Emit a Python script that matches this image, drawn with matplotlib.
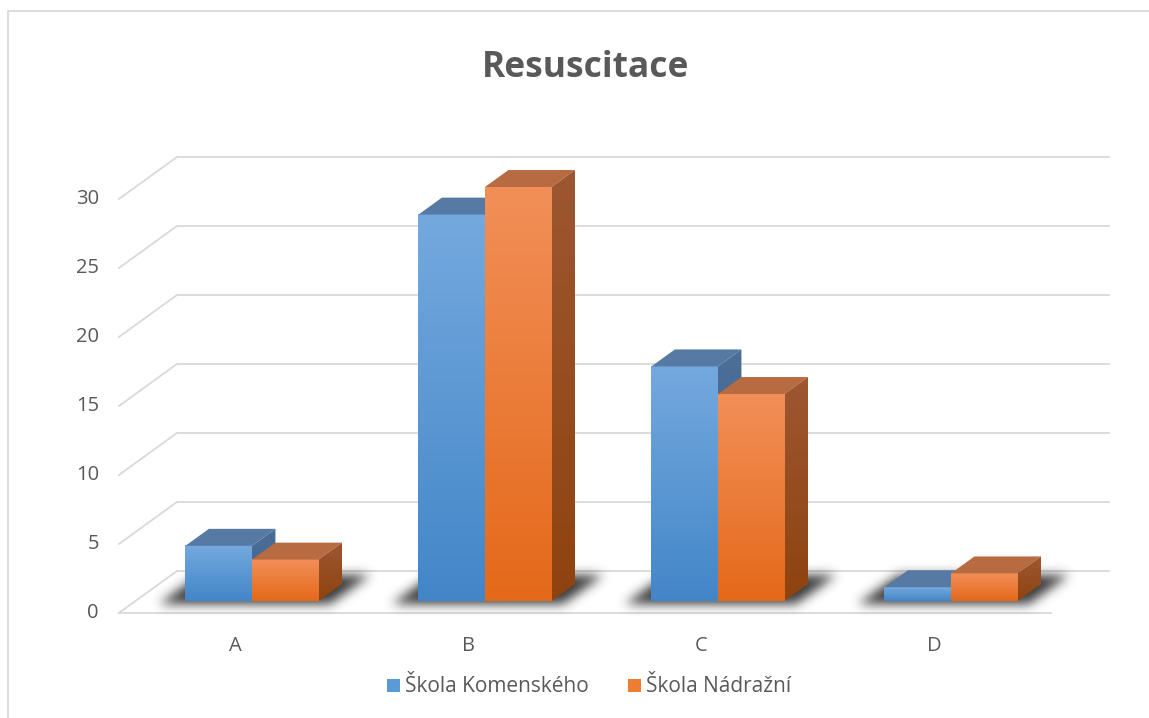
import numpy as np
import matplotlib
matplotlib.use("Agg")
import matplotlib.pyplot as plt
from matplotlib.colors import LinearSegmentedColormap
from matplotlib.patches import Polygon, Patch
from matplotlib.lines import Line2D

plt.rcParams['font.family'] = ['Open Sans', 'DejaVu Sans']

# data
categories = ['A', 'B', 'C', 'D']
series = ['Škola Komenského', 'Škola Nádražní']
komenskeho = [4, 28, 17, 1]
nadrazni = [3, 30, 15, 2]
ticks = [0, 5, 10, 15, 20, 25, 30]
title = 'Resuscitace'

# styles: (front top, front bottom, top face, side top, side bottom, legend)
styles = [
    ('#74a9de', '#4386c8', '#577aa5', '#4b6f98', '#3f6390', '#5b9bd5'),
    ('#f28f58', '#e4691a', '#b86a40', '#9d5731', '#8e430f', '#ed7d31'),
]
GRID = '#d9d9d9'
TXT = '#595959'

W, H, DPI = 1149, 718, 100
fig = plt.figure(figsize=(W / DPI, H / DPI), dpi=DPI)
ax = fig.add_axes([0, 0, 1, 1])
ax.axis('off')

# pixel scale of the plot area (category unit, value unit)
PX_X, PX_Y = 233.0, 13.8
X0, Y0 = 252.0, 601.0
DX, DY = 58 / PX_X, 42 / PX_Y        # full floor depth vector
BAR_D = 0.404                        # bar depth (fraction of floor depth)
FRONT, BACK = -0.286, 0.714          # floor depth range relative to bar front
BW = 1 / 3.5                         # gap width 150 %


def proj(x, v, d):
    return x + d * DX, v + d * DY


def blur(a, sigma):
    r = int(3 * sigma)
    k = np.exp(-0.5 * (np.arange(-r, r + 1) / sigma) ** 2)
    k /= k.sum()
    a = np.apply_along_axis(lambda m: np.convolve(m, k, mode='same'), 0, a)
    a = np.apply_along_axis(lambda m: np.convolve(m, k, mode='same'), 1, a)
    return a


# walls / gridlines
for v in ticks:
    xa, ya = proj(-0.5, v, FRONT)
    xb, yb = proj(-0.5, v, BACK)
    xc, yc = proj(len(categories) - 0.5, v, BACK)
    ax.plot([xa, xb, xc], [ya, yb, yc], color=GRID, lw=1.3, zorder=1,
            solid_joinstyle='miter')
    ax.text(xa - 20 / PX_X, ya, str(v), ha='right', va='center',
            fontsize=14.5, color=TXT)
xa, ya = proj(-0.5, 0, FRONT)
xb, yb = proj(len(categories) - 0.5, 0, FRONT)
ax.plot([xa, xb], [ya, yb], color=GRID, lw=1.3, zorder=1)

for i, c in enumerate(categories):
    xl, yl = proj(i, 0, FRONT)
    ax.text(xl, yl - 33 / PX_Y, c, ha='center', va='center',
            fontsize=14.5, color=TXT)

# soft shadows under each group
for i in range(len(categories)):
    ex0 = i - BW - 50 / PX_X
    ex1 = i + BW + DX * BAR_D + 50 / PX_X
    ey0 = -16 / PX_Y
    ey1 = BAR_D * DY + 22 / PX_Y
    nx = int(round((ex1 - ex0) * PX_X))
    ny = int(round((ey1 - ey0) * PX_Y))
    gx = np.linspace(ex0, ex1, nx)
    gy = np.linspace(ey0, ey1, ny)
    XX, YY = np.meshgrid(gx, gy)
    dd = YY / DY
    uu = XX - dd * DX
    mask = ((uu > i - BW - 22 / PX_X) & (uu < i + BW + 16 / PX_X) &
            (dd > -3 / 42) & (dd < BAR_D + 9 / 42)).astype(float)
    alpha = np.clip(blur(mask, 5.5) * 0.88, 0, 1)
    rgba = np.zeros((ny, nx, 4))
    rgba[..., :3] = 0.12
    rgba[..., 3] = alpha
    ax.imshow(rgba, extent=[ex0, ex1, ey0, ey1], origin='lower',
              aspect='auto', zorder=2, interpolation='bilinear')

# bars
grad = np.linspace(0, 1, 256).reshape(-1, 1)
for i in range(len(categories)):
    for s, vals in enumerate([komenskeho, nadrazni]):
        ftop, fbot, topc, stop, sbot, _ = styles[s]
        v = vals[i]
        x0 = i - BW + s * BW
        x1 = x0 + BW
        z = 3 + i * 2 + s
        cm_front = LinearSegmentedColormap.from_list('f', [fbot, ftop])
        ax.imshow(grad, extent=[x0, x1, 0, v], origin='lower', cmap=cm_front,
                  aspect='auto', zorder=z, interpolation='bilinear')
        top = [proj(x0, v, 0), proj(x1, v, 0), proj(x1, v, BAR_D), proj(x0, v, BAR_D)]
        ax.add_patch(Polygon(top, closed=True, facecolor=topc,
                             edgecolor='none', zorder=z))
        side = [proj(x1, 0, 0), proj(x1, 0, BAR_D), proj(x1, v, BAR_D), proj(x1, v, 0)]
        sp = Polygon(side, closed=True, facecolor='none', edgecolor='none', zorder=z)
        ax.add_patch(sp)
        sx = [p[0] for p in side]
        sy = [p[1] for p in side]
        cm_side = LinearSegmentedColormap.from_list('s', [sbot, stop])
        im = ax.imshow(grad, extent=[min(sx), max(sx), min(sy), max(sy)],
                       origin='lower', cmap=cm_side, aspect='auto', zorder=z,
                       interpolation='bilinear')
        im.set_clip_path(sp)

ax.set_xlim(-X0 / PX_X, (W - X0) / PX_X)
ax.set_ylim(-(H - Y0) / PX_Y, Y0 / PX_Y)

fig.text(586 / W, 1 - 68 / H, title, ha='center', va='center',
         fontsize=25.5, fontweight='bold', color=TXT)

handles = [Patch(facecolor=st[5], edgecolor='none') for st in styles]
fig.legend(handles, series, loc='center', bbox_to_anchor=(589 / W, 1 - 687 / H),
           ncol=2, frameon=False, fontsize=15, handlelength=0.6,
           handleheight=0.6, handletextpad=0.25, columnspacing=1.9,
           labelcolor=TXT)

# chart border (left and top)
fig.add_artist(Line2D([8 / W, 8 / W, 1], [0, 1 - 11 / H, 1 - 11 / H],
                      color=GRID, lw=1.3))

fig.savefig('out.png', dpi=DPI)
